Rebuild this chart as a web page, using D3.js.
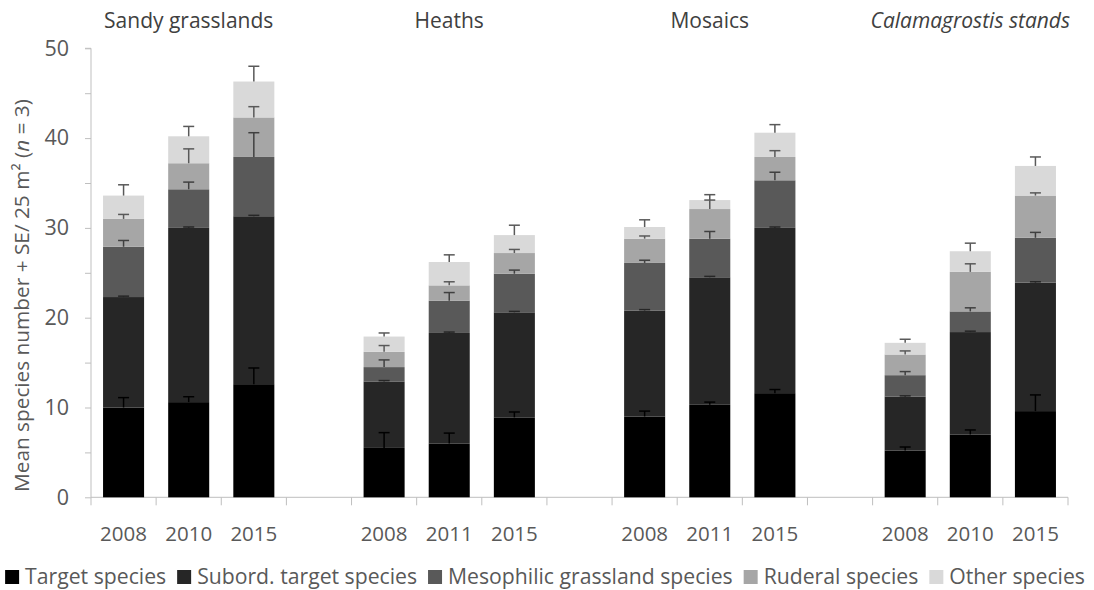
<!DOCTYPE html>
<html>
<head>
<meta charset="utf-8">
<script src="https://cdn.jsdelivr.net/npm/d3@7/dist/d3.min.js"></script>
<style>
  html, body { margin: 0; padding: 0; background: #fff; }
  svg { display: block; font-family: "Open Sans", "DejaVu Sans", sans-serif; }
</style>
</head>
<body>
<svg id="chart" width="1094" height="590"></svg>
<script>
// Habitat groups and the survey years within each
const groups = ["Sandy grasslands", "Heaths", "Mosaics", "Calamagrostis stands"];
const years = [
  ["2008", "2010", "2015"],
  ["2008", "2011", "2015"],
  ["2008", "2011", "2015"],
  ["2008", "2010", "2015"]
];

// Species groups (stack order, bottom to top)
const seriesNames = ["Target species", "Subord. target species", "Mesophilic grassland species", "Ruderal species", "Other species"];

// Mean species numbers per bar (12 bars: 4 habitats x 3 years)
const target   = [10.0, 10.6, 12.6,  5.5,  6.0,  8.9,  9.0, 10.3, 11.6,  5.2,  7.0,  9.6];
const subord   = [12.3, 19.4, 18.7,  7.4, 12.3, 11.7, 11.8, 14.2, 18.4,  6.0, 11.4, 14.3];
const meso     = [ 5.6,  4.3,  6.6,  1.6,  3.6,  4.3,  5.3,  4.3,  5.3,  2.4,  2.3,  5.0];
const ruderal  = [ 3.1,  2.9,  4.4,  1.7,  1.7,  2.3,  2.7,  3.3,  2.6,  2.3,  4.4,  4.7];
const other    = [ 2.6,  3.0,  4.0,  1.7,  2.6,  2.0,  1.3,  1.0,  2.7,  1.3,  2.3,  3.3];

// Standard errors per bar
const targetSE  = [1.1, 0.6, 1.8, 1.7, 1.15, 0.6, 0.6, 0.3, 0.4, 0.4, 0.5, 1.8];
const subordSE  = [0.1, 0.1, 0.1, 0.1, 0.1, 0.1, 0.1, 0.1, 0.1, 0.1, 0.1, 0.1];
const mesoSE    = [0.7, 0.8, 2.7, 0.8, 0.9, 0.4, 0.3, 0.8, 0.9, 0.4, 0.4, 0.6];
const ruderalSE = [0.5, 1.6, 1.2, 0.7, 0.4, 0.4, 0.3, 1.0, 0.7, 0.4, 0.9, 0.3];
const otherSE   = [1.2, 1.1, 1.7, 0.4, 0.8, 1.1, 0.8, 0.6, 0.9, 0.4, 0.9, 1.0];

const yTicks = [0, 10, 20, 30, 40, 50];

const seriesValues = [target, subord, meso, ruderal, other];
const seriesSE = [targetSE, subordSE, mesoSE, ruderalSE, otherSE];
const fills = ["#000000", "#262626", "#595959", "#a6a6a6", "#d9d9d9"];
const errColors = ["#000000", "#262626", "#404040", "#595959", "#595959"];
const textColor = "#595959";
const axisColor = "#bfbfbf";

const svg = d3.select("#chart");

// Category slots: three years per habitat, one empty slot between habitats
const slots = [];
groups.forEach((g, gi) => {
  years[gi].forEach((yr, yi) => slots.push({ key: `${gi}-${yi}`, group: gi, year: yr, bar: gi * 3 + yi }));
  if (gi < groups.length - 1) slots.push({ key: `gap-${gi}`, group: gi, year: null, bar: null });
});

const plotLeft = 91, plotRight = 1068, plotTop = 48.3, plotBottom = 497.3;

const x = d3.scaleBand()
  .domain(slots.map(s => s.key))
  .range([plotLeft, plotRight])
  .paddingInner(0.37)
  .paddingOuter(0.185);

const y = d3.scaleLinear().domain([0, 50]).range([plotBottom, plotTop]);

// Y axis: line, ticks every 5, labels every 10
const yAxis = d3.axisLeft(y)
  .tickValues(d3.range(0, 51, 5))
  .tickSize(6)
  .tickPadding(16)
  .tickFormat(d => yTicks.includes(d) ? d : "");
const yG = svg.append("g").attr("transform", `translate(${plotLeft},0)`).call(yAxis);
yG.select(".domain").attr("stroke", axisColor).attr("d", `M-6,${plotTop}H0V${plotBottom}`);
yG.selectAll(".tick line").attr("stroke", axisColor);
yG.selectAll(".tick text").attr("fill", textColor).style("font-size", "21.5px").style("font-family", "'Open Sans', sans-serif");

// X axis: baseline with tick marks at every slot boundary
const step = x.step();
const boundaries = d3.range(slots.length + 1).map(i => plotLeft + i * step);
svg.append("line")
  .attr("x1", plotLeft).attr("x2", plotRight)
  .attr("y1", plotBottom).attr("y2", plotBottom)
  .attr("stroke", axisColor).attr("stroke-width", 1);
svg.append("g").selectAll("line").data(boundaries).join("line")
  .attr("x1", d => d).attr("x2", d => d)
  .attr("y1", plotBottom).attr("y2", plotBottom + 8)
  .attr("stroke", axisColor);

// Year labels
svg.append("g").selectAll("text").data(slots.filter(s => s.year)).join("text")
  .attr("x", d => x(d.key) + x.bandwidth() / 2)
  .attr("y", 541)
  .attr("text-anchor", "middle")
  .attr("fill", textColor)
  .style("font-size", "20.5px")
  .text(d => d.year);

// Habitat titles above each group
svg.append("g").selectAll("text").data(groups).join("text")
  .attr("x", (d, gi) => x(`${gi}-1`) + x.bandwidth() / 2)
  .attr("y", 28)
  .attr("text-anchor", "middle")
  .attr("fill", "#404040")
  .style("font-size", "21px")
  .style("font-style", d => d.startsWith("Calamagrostis") ? "italic" : "normal")
  .text(d => d);

// Stacked data
const rows = slots.filter(s => s.bar !== null).map(s => {
  const r = { key: s.key };
  seriesNames.forEach((n, si) => { r[n] = seriesValues[si][s.bar]; });
  r.bar = s.bar;
  return r;
});
const stacked = d3.stack().keys(seriesNames)(rows);

const bw = x.bandwidth();
stacked.forEach((layer, si) => {
  svg.append("g").selectAll("rect").data(layer).join("rect")
    .attr("x", d => x(d.data.key))
    .attr("y", d => y(d[1]))
    .attr("width", bw)
    .attr("height", d => y(d[0]) - y(d[1]))
    .attr("fill", fills[si]);
});

// Error bars (+SE) at the top of each segment
stacked.forEach((layer, si) => {
  const g = svg.append("g").attr("stroke", errColors[si]).attr("stroke-width", 1.5);
  layer.forEach(d => {
    const cx = x(d.data.key) + bw / 2;
    const top = d[1];
    const se = seriesSE[si][d.data.bar];
    g.append("line").attr("x1", cx).attr("x2", cx).attr("y1", y(top)).attr("y2", y(top + se));
    g.append("line").attr("x1", cx - 5.5).attr("x2", cx + 5.5).attr("y1", y(top + se)).attr("y2", y(top + se));
  });
});

// Y axis title, reading upward from just above the axis bottom
const yt = svg.append("text")
  .attr("transform", "translate(29,492) rotate(-90)")
  .attr("text-anchor", "start")
  .attr("fill", textColor)
  .style("font-size", "20.8px");
yt.append("tspan").text("Mean species number + SE/ 25 m² (");
yt.append("tspan").style("font-style", "italic").text("n");
yt.append("tspan").text(" = 3)");

// Legend along the bottom, centred
const legend = svg.append("g");
const sq = 14, gapSq = 6, gapItem = 11;
let cursor = 0;
seriesNames.forEach((n, si) => {
  const item = legend.append("g").attr("transform", `translate(${cursor},0)`);
  item.append("rect").attr("x", 0).attr("y", -sq / 2).attr("width", sq).attr("height", sq).attr("fill", fills[si]);
  const t = item.append("text").attr("x", sq + gapSq).attr("y", 0).attr("dy", "0.35em")
    .attr("fill", textColor).style("font-size", "21.2px").text(n);
  cursor += sq + gapSq + t.node().getComputedTextLength() + gapItem;
});
const legendWidth = cursor - gapItem;
legend.attr("transform", `translate(${545 - legendWidth / 2},577)`);
</script>
</body>
</html>
